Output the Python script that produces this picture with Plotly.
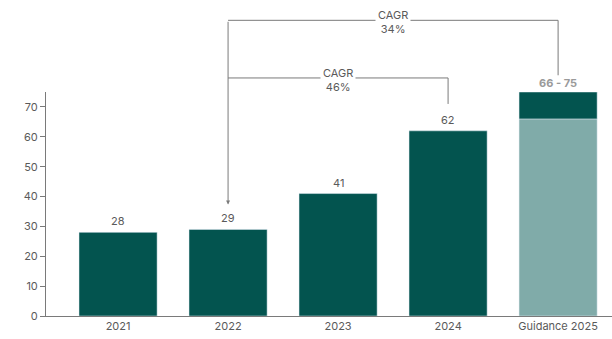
import plotly.graph_objects as go

# Revenue by year with 2025 guidance range
years = ["2021", "2022", "2023", "2024"]
actuals = [28, 29, 41, 62]
guidance_label = "Guidance 2025"
guidance_low = 66
guidance_high = 75
y_ticks = [0, 10, 20, 30, 40, 50, 60, 70]

# CAGR callouts: (label, start category index, end category index)
cagr_outer = ("34%", 1, 4)
cagr_inner = ("46%", 1, 3)

DARK = "#03544F"
LIGHT = "#80ABA9"
TEXT = "#5a5a5a"
LINE = "#7a7a7a"
FONT = "Inter"

Y_MAX = 75
categories = years + [guidance_label]

fig = go.Figure()
fig.add_trace(go.Bar(x=years, y=actuals, marker_color=DARK, width=0.71,
                     hoverinfo="skip"))
fig.add_trace(go.Bar(x=[guidance_label], y=[guidance_low], marker_color=LIGHT,
                     width=0.71, hoverinfo="skip"))
fig.add_trace(go.Bar(x=[guidance_label], y=[guidance_high - guidance_low],
                     base=[guidance_low], marker_color=DARK, width=0.71,
                     hoverinfo="skip"))


def paper(v):
    return v / Y_MAX


annotations = []
for i, v in enumerate(actuals):
    annotations.append(dict(x=i, y=v, xref="x", yref="y", text=str(v),
                            showarrow=False, yanchor="bottom", yshift=2,
                            font=dict(family=FONT, size=11, color=TEXT)))
annotations.append(dict(x=len(years), y=guidance_high, xref="x", yref="y",
                        text=f"{guidance_low} - {guidance_high}",
                        showarrow=False, yanchor="bottom", yshift=0,
                        font=dict(family=FONT, size=11, color="#9a9a9a",
                                  weight="bold")))

shapes = []
outer_y = 99
inner_y = 79.7
# outer bracket
shapes.append(dict(type="line", xref="x", yref="paper",
                   x0=cagr_outer[1], x1=cagr_outer[2],
                   y0=paper(outer_y), y1=paper(outer_y),
                   line=dict(color=LINE, width=1)))
shapes.append(dict(type="line", xref="x", yref="paper",
                   x0=cagr_outer[2], x1=cagr_outer[2],
                   y0=paper(outer_y), y1=paper(80.6),
                   line=dict(color=LINE, width=1)))
# inner bracket
shapes.append(dict(type="line", xref="x", yref="paper",
                   x0=cagr_inner[1], x1=cagr_inner[2],
                   y0=paper(inner_y), y1=paper(inner_y),
                   line=dict(color=LINE, width=1)))
shapes.append(dict(type="line", xref="x", yref="paper",
                   x0=cagr_inner[2], x1=cagr_inner[2],
                   y0=paper(inner_y), y1=paper(71),
                   line=dict(color=LINE, width=1)))

# shared stem with arrow down to 2022
annotations.append(dict(x=cagr_outer[1], y=paper(37.3), xref="x", yref="paper",
                        ax=0, ay=-(99 - 37.3) * 2.987, axref="pixel", ayref="pixel",
                        text="", showarrow=True, arrowhead=2, arrowsize=0.8,
                        arrowwidth=1, arrowcolor=LINE))

for (lab, a, b), yv in ((cagr_outer, outer_y), (cagr_inner, inner_y)):
    annotations.append(dict(x=(a + b) / 2, y=paper(yv), xref="x", yref="paper",
                            text=f"CAGR<br>{lab}", showarrow=False,
                            yanchor="middle", yshift=-2, bgcolor="white",
                            borderpad=2,
                            font=dict(family=FONT, size=11, color=TEXT)))

fig.update_layout(
    width=612, height=339,
    margin=dict(l=46, r=0, t=92, b=23),
    barmode="overlay",
    showlegend=False,
    plot_bgcolor="white", paper_bgcolor="white",
    font=dict(family=FONT, size=11, color=TEXT),
    annotations=annotations,
    shapes=shapes,
    xaxis=dict(type="category", categoryorder="array", categoryarray=categories,
               range=[-0.655, 4.49], showline=True, linecolor=LINE,
               linewidth=1, ticks="", showgrid=False, zeroline=False,
               tickfont=dict(family=FONT, size=11, color=TEXT)),
    yaxis=dict(range=[0, Y_MAX], tickvals=y_ticks, showline=True,
               linecolor=LINE, linewidth=1, ticks="outside", ticklen=5,
               tickcolor=LINE, showgrid=False, zeroline=False,
               tickfont=dict(family=FONT, size=11, color=TEXT)),
)

fig.write_html("out.html")
